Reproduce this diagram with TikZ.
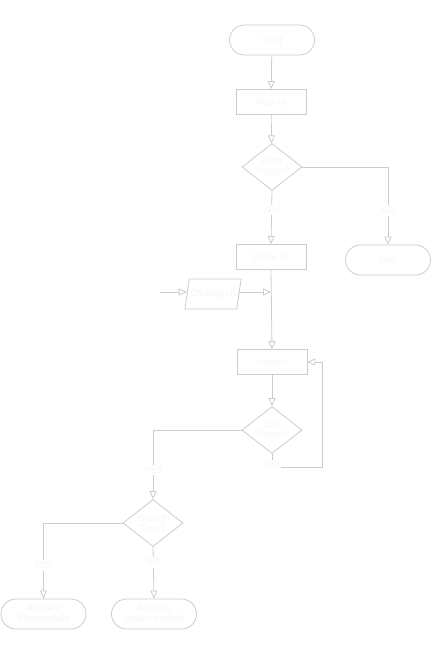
\documentclass[tikz,border=0pt]{standalone}
\usepackage{fontspec}
\setmainfont{Liberation Sans}
\usetikzlibrary{shapes.geometric,shapes.misc,arrows.meta}
\definecolor{lineg}{HTML}{CCCCCC}
\definecolor{txtw}{HTML}{F6F6F6}
\begin{document}
\begin{tikzpicture}[x=1pt,y=-1pt,line width=0.8pt,
  every node/.style={font=\fontsize{9.5}{10.5}\selectfont,text=txtw,align=center,inner sep=1pt},
  term/.style={draw=lineg,fill=white,rounded rectangle,minimum width=87pt,minimum height=30pt},
  proc/.style={draw=lineg,fill=white,minimum width=70pt,minimum height=25pt},
  dec/.style={draw=lineg,fill=white,diamond,aspect=1.28,minimum width=60pt,minimum height=47pt,inner sep=0pt},
  io/.style={draw=lineg,fill=white,trapezium,trapezium left angle=68,trapezium right angle=112,trapezium stretches body,minimum width=50pt,minimum height=30pt},
  lab/.style={fill=white,inner sep=2pt},
  arr/.style={draw=lineg,-{Triangle[open,length=8pt,width=7pt]}}]
\useasboundingbox (0,0) rectangle (433,646);
% main column
\node[term] (start) at (272,40) {Start};
\node[proc] (hide) at (271,102) {Hide UI};
\node[dec] (enter) at (272,167) {Enter\\Trigger?};
\node[term] (end) at (388,260) {End};
\node[proc] (show) at (271,257) {Show UI};
\node[io] (click) at (213,294) {Clicking UI};
\node[proc] (interact) at (272,362) {Interact};
\node[dec] (exit) at (272,430) {Exit\\Trigger?};
\node[dec] (enough) at (153,523) {Enough\\Time?};
\node[term] (succ) at (43.5,614) {Activate\\Successfully};
\node[term] (unsucc) at (154,614) {Activate\\Unsuccessfully};
\coordinate (inp) at (160,292);
\coordinate (join) at (show.south |- inp);
\coordinate (loop) at (322,467);
% connectors
\draw[arr] (start) -- (hide);
\draw[arr] (hide) -- (enter);
\draw[arr] (enter.east) -| node[lab,pos=0.78]{NO} (end.north);
\draw[arr] (enter.south) -- node[lab,pos=0.36]{YES} (show.north);
\draw[arr] (show.south) -- (interact.north);
\draw[arr] (inp) -- (click.west |- inp);
\draw[arr] (click.east |- inp) -- (join);
\draw[arr] (interact) -- (exit);
\draw[arr] (exit.south) |- node[lab,pos=0.45]{NO} (loop) |- (interact.east);
\draw[arr] (exit.west) -| node[lab,pos=0.79]{YES} (enough.north);
\draw[arr] (enough.west) -| node[lab,pos=0.78]{YES} (succ.north);
\draw[arr] (enough.south) -- node[lab,pos=0.3]{NO} (unsucc.north);
\end{tikzpicture}
\end{document}
